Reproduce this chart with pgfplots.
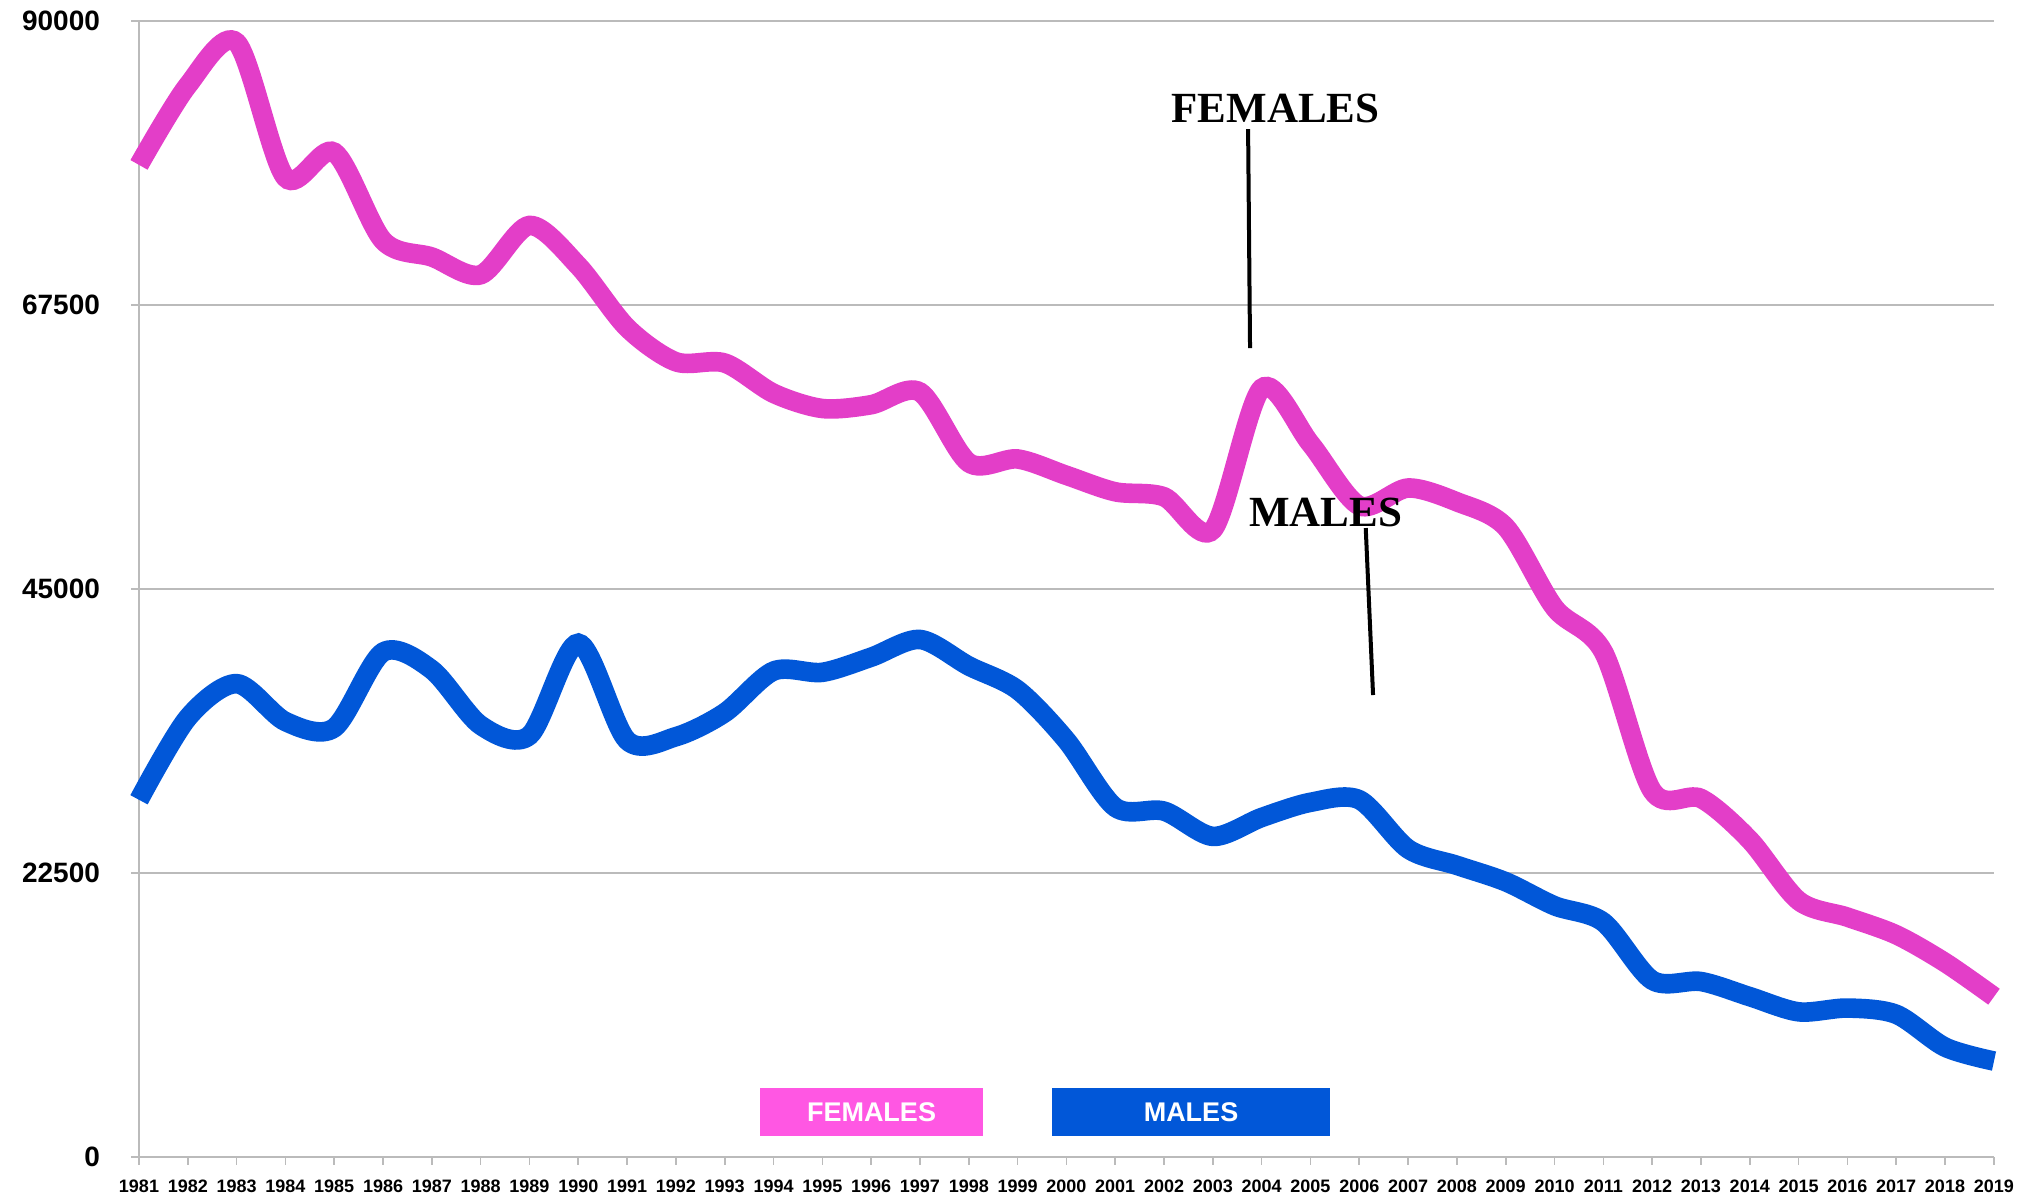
\documentclass[border=0pt]{standalone}
\usepackage{fontspec}
\setmainfont{Liberation Sans}
\newfontfamily\annfont{Liberation Serif}
\usepackage{pgfplots}
\pgfplotsset{compat=1.18}
\definecolor{fem}{HTML}{E33EC8}
\definecolor{femleg}{HTML}{FF57E3}
\definecolor{mal}{HTML}{0157D8}
\definecolor{gridc}{HTML}{BBBBBB}
\begin{document}
\begin{tikzpicture}
\begin{axis}[
  at={(0,0)}, anchor=south west,
  scale only axis, width=927.5pt, height=568pt,
  xmin=1981, xmax=2019, ymin=0, ymax=90000,
  axis lines*=left,
  x axis line style={line width=1.4pt, color=gridc},
  y axis line style={line width=0.8pt, color=gridc},
  ytick={0,22500,45000,67500,90000},
  xtick={1981,...,2019},
  scaled y ticks=false,
  ymajorgrids, grid style={line width=0.8pt, color=gridc},
  tick style={color=gridc, line width=0.8pt},
  tick align=outside, major tick length=4pt,
  /pgf/number format/1000 sep={},
  /pgf/number format/assume math mode=true,
  yticklabel style={font=\bfseries\fontsize{14}{14}\selectfont, xshift=-12pt},
  xticklabel style={font=\bfseries\fontsize{9}{9}\selectfont, yshift=-4pt},
  clip=false,
]
\addplot[color=fem, line width=9.8pt, smooth, tension=0.5] coordinates {
(1981,78600) (1982,84900) (1983,88300) (1984,77600) (1985,79600)
(1986,72600) (1987,71300) (1988,69900) (1989,73800) (1990,70600)
(1991,65700) (1992,63000) (1993,62900) (1994,60500) (1995,59300)
(1996,59600) (1997,60600) (1998,55000) (1999,55300) (2000,54000)
(2001,52700) (2002,52300) (2003,49700) (2004,60900) (2005,56500)
(2006,51600) (2007,53000) (2008,51900) (2009,49900) (2010,43500)
(2011,40000) (2012,29000) (2013,28400) (2014,25100) (2015,20300)
(2016,19000) (2017,17600) (2018,15400) (2019,12700)
};
\addplot[color=mal, line width=9.8pt, smooth, tension=0.5] coordinates {
(1981,28300) (1982,34800) (1983,37500) (1984,34500) (1985,34000)
(1986,40000) (1987,38600) (1988,34200) (1989,33400) (1990,40700)
(1991,33000) (1992,33300) (1993,35200) (1994,38500) (1995,38400)
(1996,39600) (1997,41000) (1998,38900) (1999,37000) (2000,33000)
(2001,27700) (2002,27400) (2003,25400) (2004,26900) (2005,28100)
(2006,28300) (2007,24400) (2008,23100) (2009,21800) (2010,19900)
(2011,18600) (2012,14000) (2013,13900) (2014,12700) (2015,11500)
(2016,11800) (2017,11300) (2018,8700) (2019,7600)
};
\draw[line width=2pt] (axis cs:2003.72,81440) -- (axis cs:2003.76,64090);
\node[font=\annfont\bfseries\fontsize{21.5}{21.5}\selectfont] at (axis cs:2004.28,83100) {FEMALES};
\draw[line width=2pt] (axis cs:2006.13,49830) -- (axis cs:2006.28,36600);
\node[font=\annfont\bfseries\fontsize{21.5}{21.5}\selectfont] at (axis cs:2005.31,51100) {MALES};
\end{axis}
\fill[femleg] (310.5pt,10.5pt) rectangle (422pt,34.5pt);
\node[text=white, font=\bfseries\fontsize{13.5}{13.5}\selectfont] at (366.25pt,22.5pt) {FEMALES};
\fill[mal] (456.5pt,10.5pt) rectangle (595.5pt,34.5pt);
\node[text=white, font=\bfseries\fontsize{13.5}{13.5}\selectfont] at (526pt,22.5pt) {MALES};
\pgfresetboundingbox
\path (-69.5pt,-21pt) rectangle (940pt,578.5pt);
\end{tikzpicture}
\end{document}
